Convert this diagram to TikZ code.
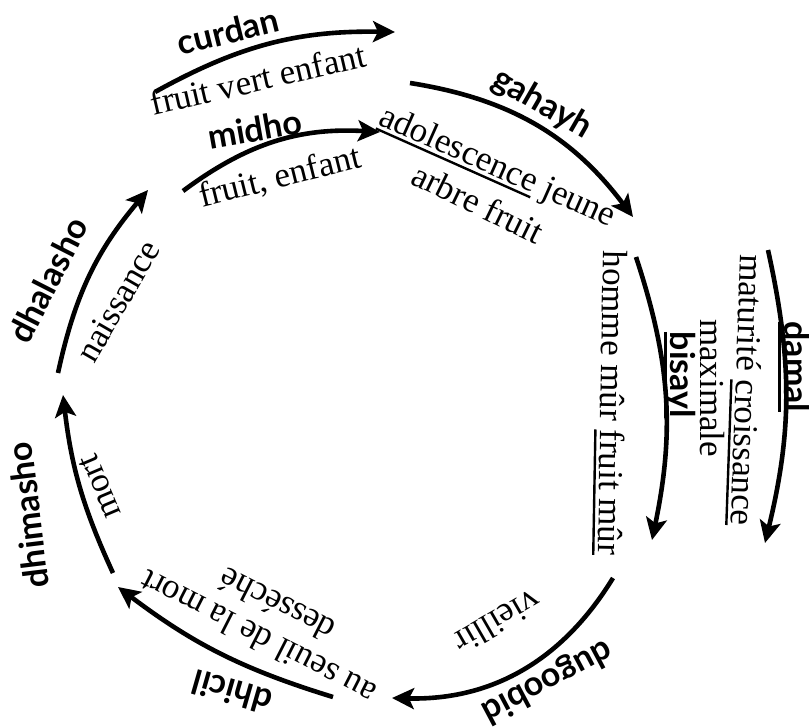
\documentclass[tikz,border=0pt]{standalone}
\usepackage{fontspec}
\setmainfont{Liberation Serif}
\newfontfamily\labfont{Lato}
\usetikzlibrary{arrows.meta}
\newcommand\uln[1]{\setbox0\hbox{#1}\rlap{\rule[-6pt]{\wd0}{2.4pt}}\box0\relax}
\begin{document}
\begin{tikzpicture}[x=1pt,y=-1pt,
  lab/.style={font={\fontsize{34}{38}\selectfont\labfont\bfseries}, inner sep=0pt},
  txt/.style={font={\fontsize{35}{40}\selectfont}, inner sep=0pt},
  arr/.style={line width=4.6pt, -{Stealth[length=22pt,width=21pt,inset=5pt]}}]
\useasboundingbox (0,0) rectangle (809,728);
% arrow end points
\coordinate (dhA) at (58,373);  \coordinate (dhB) at (148,190);
\coordinate (miA) at (183,191); \coordinate (miB) at (380,132);
\coordinate (cuA) at (155,92);  \coordinate (cuB) at (395,32);
\coordinate (gaA) at (410,83);  \coordinate (gaB) at (633,217);
\coordinate (biA) at (636,257); \coordinate (biB) at (652,540);
\coordinate (daA) at (768,250); \coordinate (daB) at (765,543);
\coordinate (duA) at (613,578); \coordinate (duB) at (392,698);
\coordinate (dcA) at (333,697); \coordinate (dcB) at (118,587);
\coordinate (dmA) at (113,573); \coordinate (dmB) at (63,395);
% arrows
\draw[arr] (dhA) to[bend left=14] (dhB);
\draw[arr] (miA) to[bend left=20] (miB);
\draw[arr] (cuA) to[bend left=15] (cuB);
\draw[arr] (gaA) to[bend left=22] (gaB);
\draw[arr] (biA) to[bend left=15] (biB);
\draw[arr] (daA) to[bend left=13] (daB);
\draw[arr] (duA) to[bend left=30] (duB);
\draw[arr] (dcA) to[bend left=10] (dcB);
\draw[arr] (dmA) to[bend left=9] (dmB);
% labels
\node[lab, rotate=14] (curdan) at (228,31) {curdan};
\node[txt, rotate=13] (fve) at (258,79) {fruit vert enfant};
\node[lab, rotate=10] (midho) at (255,129) {midho};
\node[txt, rotate=14] (fe) at (280,178) {fruit, enfant};
\node[lab, rotate=-30] (gahayh) at (542,104) {gahayh};
\node[txt, rotate=-24] (adj) at (497,168) {\uln{adolescence} jeune};
\node[txt, rotate=-26] (af) at (478,203) {arbre fruit};
\node[txt, rotate=-91] (hm) at (610,403) {homme mûr \uln{fruit mûr}};
\node[lab, rotate=-90] (bisayl) at (680,375) {\uln{bisayl}};
\node[txt, rotate=-90] (maxi) at (712,388) {maximale};
\node[txt, rotate=-92] (mat) at (745,390) {maturité \uln{croissance}};
\node[lab, rotate=-90] (damal) at (794,367) {\uln{damal}};
\node[lab, rotate=-152] (dugoobid) at (547,681) {dugoobid};
\node[txt, rotate=-150] (vieil) at (498,622) {vieillir};
\node[lab, rotate=164] (dhicil) at (232,692) {dhicil};
\node[txt, rotate=153] (seuil) at (258,638) {au seuil de la mort};
\node[txt, rotate=153] (dess) at (277,605) {desséché};
\node[txt, rotate=113] (mort) at (100,487) {mort};
\node[lab, rotate=97] (dhimasho) at (28,515) {dhimasho};
\node[lab, rotate=63] (dhalasho) at (48,280) {dhalasho};
\node[txt, rotate=60] (nais) at (118,301) {naissance};
\end{tikzpicture}
\end{document}
